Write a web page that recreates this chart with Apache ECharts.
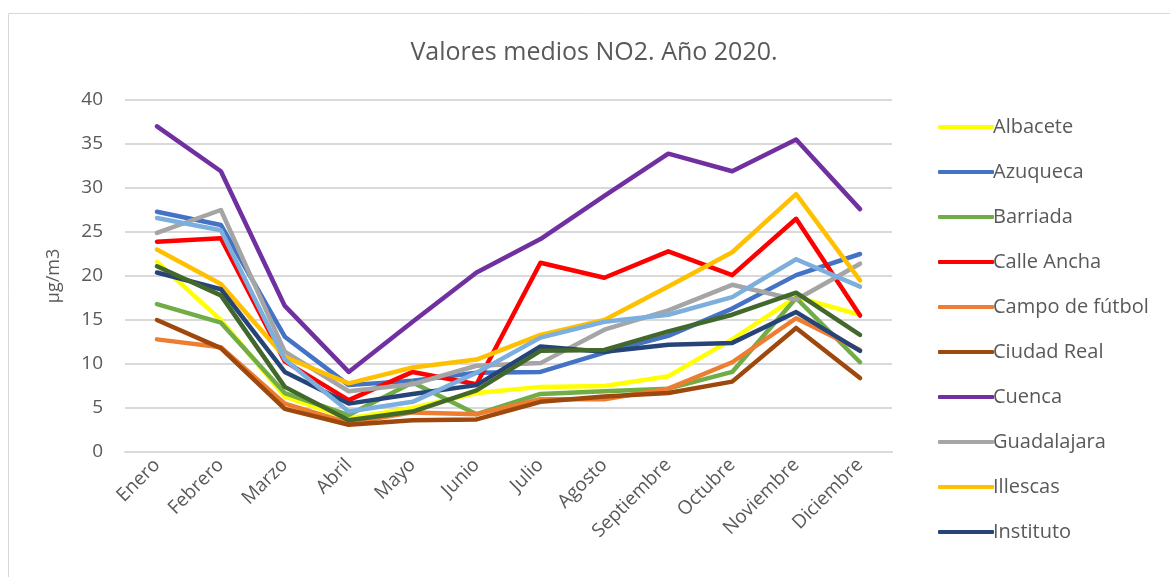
<!DOCTYPE html>
<html>
<head>
    <meta charset="utf-8">
    <title>Valores medios NO2</title>
    <script src="https://cdn.jsdelivr.net/npm/echarts@6/dist/echarts.min.js"></script>
    <style>
        body{ margin: 0; background: #fff; }
        #chart{ width: 1170px; height: 577px; }
    </style>
</head>
<body>
<div id="chart"></div>
<script>
    var meses = ['Enero','Febrero','Marzo','Abril','Mayo','Junio','Julio','Agosto','Septiembre','Octubre','Noviembre','Diciembre'];
    var yTicks = [0, 5, 10, 15, 20, 25, 30, 35, 40];

    // valores (µg/m3)
    var albacete    = [21.6, 15.0, 6.3, 3.8, 5.0, 6.7, 7.4, 7.5, 8.6, 12.8, 17.6, 15.6];
    var azuqueca    = [27.3, 25.8, 13.1, 7.6, 8.1, 9.0, 9.1, 11.3, 13.2, 16.3, 20.1, 22.5];
    var barriada    = [16.8, 14.7, 6.7, 4.2, 7.9, 4.3, 6.6, 6.9, 7.2, 9.1, 17.5, 10.2];
    var calleAncha  = [23.9, 24.3, 10.3, 5.9, 9.1, 7.7, 21.5, 19.8, 22.8, 20.1, 26.5, 15.5];
    var campo       = [12.8, 11.9, 5.5, 3.3, 4.5, 4.3, 6.0, 6.0, 7.2, 10.2, 15.2, 11.6];
    var ciudadReal  = [15.0, 11.8, 4.9, 3.1, 3.6, 3.7, 5.7, 6.3, 6.7, 8.0, 14.1, 8.4];
    var cuenca      = [37.0, 31.9, 16.6, 9.1, 14.8, 20.4, 24.2, 29.1, 33.9, 31.9, 35.5, 27.6];
    var guadalajara = [24.9, 27.5, 11.4, 6.9, 7.7, 9.8, 10.1, 13.9, 16.1, 19.0, 17.3, 21.4];
    var illescas    = [23.0, 19.1, 10.8, 7.8, 9.6, 10.5, 13.3, 15.0, 18.8, 22.7, 29.3, 19.5];
    var instituto   = [20.4, 18.5, 9.1, 5.5, 6.6, 7.6, 12.0, 11.4, 12.2, 12.4, 15.9, 11.5];
    var talavera    = [26.6, 25.2, 10.5, 4.6, 5.7, 9.0, 13.0, 14.8, 15.6, 17.6, 21.9, 18.8];
    var toledo      = [21.1, 17.8, 7.4, 3.6, 4.6, 7.0, 11.5, 11.6, 13.7, 15.6, 18.1, 13.3];

    var nombres = ['Albacete','Azuqueca','Barriada','Calle Ancha','Campo de fútbol','Ciudad Real','Cuenca','Guadalajara','Illescas','Instituto','Talavera','Toledo'];
    var valores = [albacete, azuqueca, barriada, calleAncha, campo, ciudadReal, cuenca, guadalajara, illescas, instituto, talavera, toledo];
    var colores = ['#FFFF00','#4472C4','#70AD47','#FF0000','#ED7D31','#9E480E','#7030A0','#A5A5A5','#FFC000','#264478','#7CAFDD','#43682B'];

    var series = nombres.map(function (n, i) {
        return {
            name: n,
            type: 'line',
            data: valores[i],
            symbol: 'none',
            lineStyle: { width: 4.5, color: colores[i], cap: 'round', join: 'round' },
            itemStyle: { color: colores[i] }
        };
    });

    var myChart = echarts.init(document.getElementById('chart'));
    myChart.setOption({
        animation: false,
        textStyle: { fontFamily: 'Open Sans' },
        graphic: [{
            type: 'rect',
            shape: { x: 8.5, y: 13.5, width: 1180, height: 600 },
            style: { fill: 'none', stroke: '#d9d9d9', lineWidth: 1 },
            silent: true
        }],
        title: {
            text: 'Valores medios NO2. Año 2020.',
            left: 589,
            top: 35,
            textAlign: 'center',
            textStyle: { fontSize: 25, fontWeight: 'normal', color: '#595959', fontFamily: 'Open Sans' }
        },
        legend: {
            orient: 'vertical',
            left: 933,
            top: 112,
            itemGap: 25,
            itemWidth: 56,
            itemHeight: 4,
            icon: 'roundRect',
            data: nombres.slice(0, 10),
            textStyle: { fontSize: 20, color: '#595959', padding: [0, 0, 0, -6] }
        },
        grid: { left: 125, right: 278, top: 100, bottom: 125 },
        xAxis: {
            type: 'category',
            data: meses,
            boundaryGap: true,
            axisLine: { lineStyle: { color: '#d9d9d9', width: 2 } },
            axisTick: { show: false },
            axisLabel: { rotate: 45, fontSize: 19, color: '#595959', margin: 10, interval: 0 }
        },
        yAxis: {
            type: 'value',
            min: yTicks[0],
            max: yTicks[yTicks.length - 1],
            interval: 5,
            name: 'µg/m3',
            nameLocation: 'middle',
            nameGap: 62,
            nameTextStyle: { fontSize: 18, color: '#595959' },
            axisLine: { show: false },
            axisTick: { show: false },
            axisLabel: { fontSize: 19, color: '#595959', margin: 22 },
            splitLine: { lineStyle: { color: '#d9d9d9', width: 2 } }
        },
        series: series
    });
</script>
</body>
</html>
